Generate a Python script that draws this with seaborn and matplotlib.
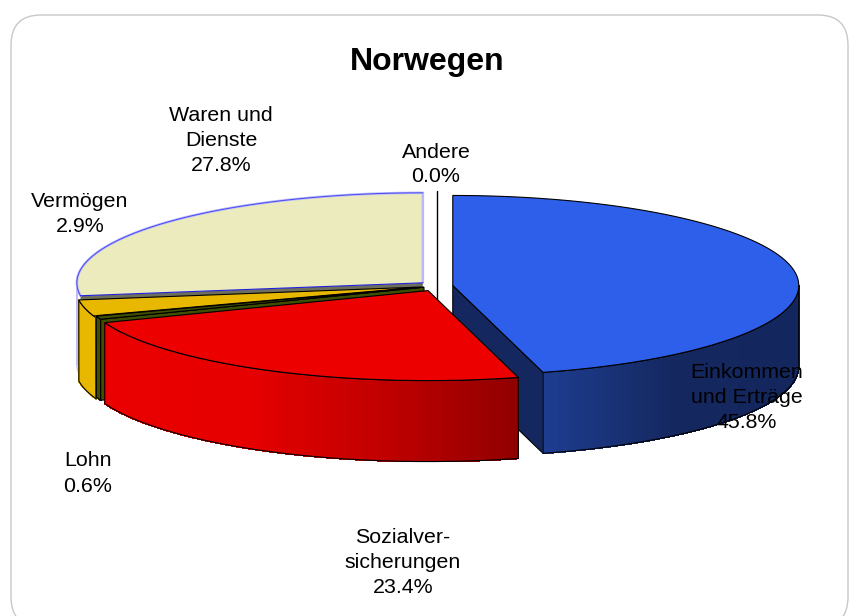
import numpy as np
import matplotlib.pyplot as plt
import seaborn as sns
from matplotlib.collections import PolyCollection
from matplotlib.patches import FancyBboxPatch

sns.set_theme(style='white')
plt.rcParams['font.family'] = ['Liberation Sans', 'DejaVu Sans']

labels = ['Einkommen\nund Erträge', 'Sozialver-\nsicherungen', 'Lohn', 'Vermögen', 'Waren und\nDienste', 'Andere']
values = [45.8, 23.4, 0.6, 2.9, 27.8, 0.0]
explode = [0.046, 0.057, 0.040, 0.047, 0.054, 0.054]
label_pos = [(747, 397.5), (403, 562.5), (88, 473.5), (80, 214), (221, 140.5), (436, 164.5)]

top_colors = ['#2d5fea', '#ec0000', '#3f4f00', '#e8b800', '#ecebbd', '#ffffff']

# pie geometry in pixels
cx, cy = 437, 286
rx, ry = 346, 90
depth = 81

# slice angles, clockwise from the top, the rounded labels add up to 100.5 so stop at 360
ends = np.minimum(np.cumsum(values) * 3.6, 360)
starts = np.r_[0, ends[:-1]]

z = [1]


def next_z():
    # painter's order, back of the pie first
    z[0] += 1
    return z[0]


def apex(i):
    mid = np.radians((starts[i] + ends[i]) / 2)
    return cx + explode[i] * rx * np.sin(mid), cy - explode[i] * ry * np.cos(mid)


def arc(i, t0, t1, n=120):
    ax0, ay0 = apex(i)
    t = np.radians(np.linspace(t0, t1, n))
    return np.c_[ax0 + rx * np.sin(t), ay0 - ry * np.cos(t)]


def draw_top(i, edge='black', lw=0.8):
    pts = np.vstack([apex(i), arc(i, starts[i], ends[i])])
    ax.fill(pts[:, 0], pts[:, 1], facecolor=top_colors[i], edgecolor=edge, linewidth=lw,
            joinstyle='miter', zorder=next_z())


def draw_rim(i, t0, t1, stops):
    pts = arc(i, t0, t1, 200)
    colors = sns.blend_palette(stops, 64)
    xmin, xmax = pts[:, 0].min(), pts[:, 0].max()
    quads, quad_colors = [], []
    for a, b in zip(pts[:-1], pts[1:]):
        quads.append([a, b, b + [0, depth], a + [0, depth]])
        frac = ((a[0] + b[0]) / 2 - xmin) / max(xmax - xmin, 1)
        quad_colors.append(colors[int(frac * 63)])
    ax.add_collection(PolyCollection(quads, facecolors=quad_colors, edgecolors=quad_colors,
                                     linewidths=0.6, antialiaseds=False, zorder=next_z()))
    outline = np.vstack([pts, pts[::-1] + [0, depth], pts[:1]])
    ax.plot(outline[:, 0], outline[:, 1], color='black', lw=0.8, solid_joinstyle='miter', zorder=next_z())


def draw_radial(i, t, color):
    a = np.array(apex(i))
    edge = arc(i, t, t, 1)[0]
    pts = np.array([a, edge, edge + [0, depth], a + [0, depth]])
    ax.fill(pts[:, 0], pts[:, 1], facecolor=color, edgecolor='black', linewidth=0.8,
            joinstyle='miter', zorder=next_z())


fig = plt.figure(figsize=(8.49, 6.16), dpi=100)
ax = fig.add_axes([0, 0, 1, 1])
ax.set_xlim(0, 849)
ax.set_ylim(616, 0)
ax.axis('off')

ax.add_patch(FancyBboxPatch((11, 15), 837, 612, boxstyle='round,pad=0,rounding_size=30',
                            facecolor='white', edgecolor='#c8c8c8', linewidth=1.0, zorder=next_z()))

# back slice first: Waren und Dienste
wa = 4
rim_left = arc(wa, starts[wa], 270, 40)
ax.plot(rim_left[:, 0], rim_left[:, 1] + depth, color='#c4c4f4', lw=1.2, zorder=next_z())
ax.plot([rim_left[-1, 0]] * 2, [rim_left[-1, 1], rim_left[-1, 1] + depth], color='#b0b0f0', lw=1.2, zorder=next_z())
edge_wa = np.array(arc(wa, starts[wa], starts[wa], 1)[0])
a_wa = np.array(apex(wa))
pts_wa = np.array([a_wa, edge_wa, edge_wa + [0, depth], a_wa + [0, depth]])
ax.fill(pts_wa[:, 0], pts_wa[:, 1], facecolor='#6e6e5c', edgecolor='none', zorder=next_z())
draw_top(wa, edge='none', lw=0)
line = np.vstack([arc(wa, starts[wa], 360), a_wa])
ax.plot(line[:, 0], line[:, 1], color='#b8b8fa', lw=1.8, zorder=next_z())
ax.plot(line[:-1, 0], line[:-1, 1], color='#4a4af0', lw=0.7, zorder=next_z())
ax.plot([edge_wa[0], a_wa[0]], [edge_wa[1], a_wa[1]], color='#2020e0', lw=0.8, zorder=next_z())

# Andere is 0 %, only a line
an = np.array(apex(5))
ax.plot([an[0], an[0]], [an[1] - ry, an[1] + depth], color='black', lw=1, zorder=next_z())

# Einkommen
draw_radial(0, ends[0], '#14275f')
draw_rim(0, 90, ends[0], ['#1e3d90', '#14275f', '#14265e'])
draw_top(0)

# Vermögen, Lohn (yellow rim runs on a little under the olive slice so no gap shows)
draw_rim(3, starts[3] - 1.5, ends[3], ['#e8b800', '#e8b800'])
draw_top(3)
draw_rim(2, starts[2], ends[2], ['#3f4f00', '#3f4f00'])
draw_radial(2, starts[2], '#3f4f00')
draw_top(2)

# Sozialversicherungen
draw_rim(1, starts[1], ends[1], ['#ea0000', '#e60000', '#c00000', '#8f0000'])
draw_top(1)

ax.text(427.5, 62, 'Norwegen', ha='center', va='center', fontsize=23, fontweight='bold',
        color='black', zorder=next_z())
for name, val, (x, y) in zip(labels, values, label_pos):
    ax.text(x, y, f'{name}\n{val:.1f}%', ha='center', va='center', fontsize=15.4,
            color='black', linespacing=1.4, zorder=next_z())

plt.savefig('out.png', dpi=100)
plt.close()
